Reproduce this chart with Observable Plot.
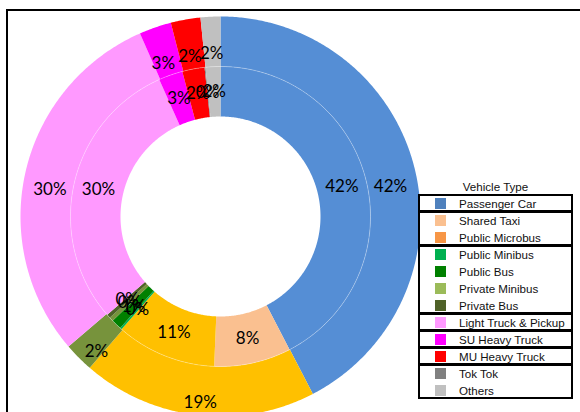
<!DOCTYPE html>
<html>
<head>
<meta charset="utf-8">
<script src="https://cdn.jsdelivr.net/npm/d3@7"></script>
<script src="https://cdn.jsdelivr.net/npm/@observablehq/plot@0.6"></script>
<style>
  html, body { margin: 0; padding: 0; background: #fff; }
  #wrap { position: relative; width: 580px; height: 412px; overflow: hidden; }
  #chart { position: absolute; left: 0; top: 0; }
  #frame { position: absolute; left: 6px; top: 9px; width: 600px; height: 420px;
           border-top: 2px solid #000; border-left: 2px solid #000; box-sizing: border-box; }
  .lg { position: absolute; font-family: "Liberation Sans", Arial, sans-serif; font-size: 11.6px; color: #111; white-space: nowrap; }
  .box { position: absolute; border: 2px solid #000; box-sizing: border-box; background: #fff; }
  .sw { position: absolute; width: 11px; height: 11px; }
</style>
</head>
<body>
<div id="wrap">
  <div id="chart"></div>
  <div id="frame"></div>
  <div id="legend"></div>
</div>
<script>
// ---- data ----
const categories = ["Passenger Car", "Shared Taxi", "Public Microbus", "Public Minibus", "Public Bus",
  "Private Minibus", "Private Bus", "Light Truck & Pickup", "SU Heavy Truck", "MU Heavy Truck", "Tok Tok", "Others"];
const innerValues = [42.4, 8.3, 10.8, 0.2, 1.1, 0.45, 0.4, 29.7, 2.6, 2.4, 0.1, 1.6];
const innerColors = ["#558ED5", "#FAC090", "#FFC000", "#00B050", "#008000", "#77933C", "#4F6228",
  "#FF99FF", "#FF00FF", "#FF0000", "#808080", "#C0C0C0"];
const outerGroups = ["Passenger Car", "Public Transport", "Private Bus", "Light Truck & Pickup",
  "SU Heavy Truck", "MU Heavy Truck", "Others"];
const outerValues = [42.4, 19.0, 2.4, 29.7, 2.6, 2.4, 1.6];
const outerColors = ["#558ED5", "#FFC000", "#77933C", "#FF99FF", "#FF00FF", "#FF0000", "#C0C0C0"];
const legendColors = ["#4F81BD", "#FAC090", "#F79646", "#00B050", "#008000", "#9BBB59", "#4F6228",
  "#FF99FF", "#FF00FF", "#FF0000", "#808080", "#C0C0C0"];
const legendGroups = [[0], [1, 2], [3, 4, 5, 6], [7], [8], [9], [10, 11]];
const legendTitle = "Vehicle Type";

// ---- geometry derived from values ----
const HOLE = 100, MID = 150, OUTER = 200;
function ring(names, values, colors, r0, r1, tag) {
  const total = d3.sum(values);
  const pts = [], labels = [];
  let acc = 0;
  values.forEach((v, i) => {
    const a0 = acc / total * 2 * Math.PI;
    acc += v;
    const a1 = acc / total * 2 * Math.PI;
    const n = Math.max(2, Math.ceil((a1 - a0) / (Math.PI / 360)));
    const id = tag + i;
    for (let j = 0; j <= n; j++) {
      const a = a0 + (a1 - a0) * j / n;
      pts.push({id, color: colors[i], x: r1 * Math.sin(a), y: r1 * Math.cos(a)});
    }
    for (let j = n; j >= 0; j--) {
      const a = a0 + (a1 - a0) * j / n;
      pts.push({id, color: colors[i], x: r0 * Math.sin(a), y: r0 * Math.cos(a)});
    }
    const m = (a0 + a1) / 2, rm = (r0 + r1) / 2;
    labels.push({name: names[i], text: Math.round(v / total * 100) + "%", x: rm * Math.sin(m), y: rm * Math.cos(m)});
  });
  return {pts, labels};
}
const inner = ring(categories, innerValues, innerColors, HOLE, MID, "in");
const outer = ring(outerGroups, outerValues, outerColors, MID, OUTER, "out");
const sep = d3.range(0, 361, 1).map(d => ({x: MID * Math.sin(d * Math.PI / 180), y: MID * Math.cos(d * Math.PI / 180)}));

const cx = 220, cy = 216;
const chart = Plot.plot({
  width: 580, height: 412, margin: 0,
  x: {domain: [-OUTER, OUTER], range: [cx - OUTER, cx + OUTER], axis: null},
  y: {domain: [-OUTER, OUTER], range: [cy + OUTER, cy - OUTER], axis: null},
  color: {type: "identity"},
  style: {background: "transparent", overflow: "visible"},
  marks: [
    Plot.line(outer.pts, {x: "x", y: "y", z: "id", fill: "color", stroke: null, curve: "linear"}),
    Plot.line(inner.pts, {x: "x", y: "y", z: "id", fill: "color", stroke: null, curve: "linear"}),
    Plot.line(sep, {x: "x", y: "y", stroke: "#fff", strokeWidth: 0.6, strokeOpacity: 0.5}),
    Plot.text(inner.labels, {x: "x", y: "y", text: "text", fontSize: 17, fontFamily: "Lato, 'Open Sans', sans-serif", fill: "#000"}),
    Plot.text(outer.labels, {x: "x", y: "y", text: "text", dy: 12, fontSize: 17, fontFamily: "Lato, 'Open Sans', sans-serif", fill: "#000"})
  ]
});
document.getElementById("chart").appendChild(chart);

// ---- legend ----
const lg = document.getElementById("legend");
const L = 418, W = 155, TOP = 194, ROW = 17;
const title = document.createElement("div");
title.className = "lg";
title.textContent = legendTitle;
title.style.left = L + "px"; title.style.width = W + "px"; title.style.textAlign = "center";
title.style.top = "180px";
lg.appendChild(title);
let row = 0;
legendGroups.forEach(g => {
  const box = document.createElement("div");
  box.className = "box";
  box.style.left = L + "px"; box.style.width = W + "px";
  box.style.top = (TOP + ROW * row) + "px";
  box.style.height = (ROW * g.length + 1) + "px";
  lg.appendChild(box);
  row += g.length;
});
categories.forEach((c, i) => {
  const yc = TOP + 10 + ROW * i;
  const sw = document.createElement("div");
  sw.className = "sw";
  sw.style.left = "435px"; sw.style.top = (yc - 6) + "px";
  sw.style.background = legendColors[i];
  lg.appendChild(sw);
  const t = document.createElement("div");
  t.className = "lg";
  t.textContent = c;
  t.style.left = "459px"; t.style.top = (yc - 7) + "px";
  lg.appendChild(t);
});
</script>
</body>
</html>
